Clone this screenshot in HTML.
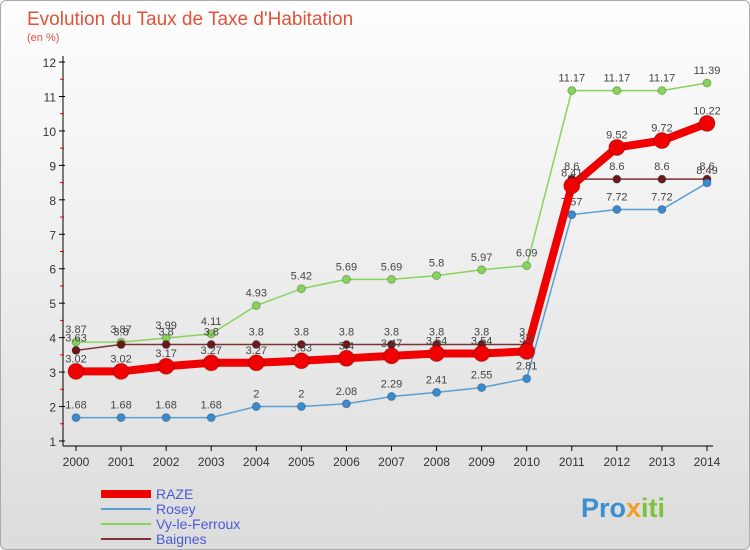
<!DOCTYPE html>
<html><head><meta charset="utf-8"><style>
body{margin:0}
#c{width:748px;height:548px;border:1px solid #aaa;border-radius:6px;background:linear-gradient(#fefefe,#dcdcdc);position:relative;overflow:hidden;font-family:"Liberation Sans",sans-serif}
svg text{font-family:"Liberation Sans",sans-serif}
</style></head><body>
<div id="c">
<svg id="s" width="750" height="550">
<text x="26" y="24" font-size="19" fill="#e0533a">Evolution du Taux de Taxe d'Habitation</text>
<text x="26" y="40" font-size="11" fill="#e0533a">(en %)</text>
<g id="ax"></g><g id="pl"></g><g id="lg"></g>
<text x="580" y="516" font-size="27" font-weight="bold" fill="#3a8fd0">Pro<tspan fill="#f0a020">x</tspan><tspan fill="#7cc23a">iti</tspan></text>
</svg></div>
<script>
const years=[2000,2001,2002,2003,2004,2005,2006,2007,2008,2009,2010,2011,2012,2013,2014];
const yTicks=[1,2,3,4,5,6,7,8,9,10,11,12];
const raze=[3.02,3.02,3.17,3.27,3.27,3.33,3.4,3.47,3.54,3.54,3.6,8.41,9.52,9.72,10.22];
const rosey=[1.68,1.68,1.68,1.68,2,2,2.08,2.29,2.41,2.55,2.81,7.57,7.72,7.72,8.49];
const vy=[3.87,3.87,3.99,4.11,4.93,5.42,5.69,5.69,5.8,5.97,6.09,11.17,11.17,11.17,11.39];
const baignes=[3.63,3.8,3.8,3.8,3.8,3.8,3.8,3.8,3.8,3.8,3.8,8.6,8.6,8.6,8.6];
const NS="http://www.w3.org/2000/svg";
const X=i=>75+i*(706-75)/(years.length-1);
const Y=v=>440-(v-1)*(440-61)/11;
function mk(p,t,a){const e=document.createElementNS(NS,t);for(const k in a)e.setAttribute(k,a[k]);p.appendChild(e);return e;}
const ax=document.getElementById('ax'),pl=document.getElementById('pl'),lg=document.getElementById('lg');
let l=mk(ax,'line',{x1:62,y1:55,x2:62,y2:445,stroke:'#000'});


l=mk(ax,'line',{x1:62,y1:445,x2:712,y2:445,stroke:'#000'});


yTicks.forEach(v=>{
 mk(ax,'line',{x1:58,x2:64,y1:Y(v),y2:Y(v),stroke:'#000'});
 if(v<12)mk(ax,'line',{x1:59,x2:63,y1:Y(v+0.5),y2:Y(v+0.5),stroke:'#e00'});
 const t=mk(ax,'text',{x:55,y:Y(v)+5,'font-size':12,'text-anchor':'end',fill:'#333'});t.textContent=v;
 
 
});
years.forEach((y,i)=>{
 mk(ax,'line',{x1:X(i),x2:X(i),y1:445,y2:450,stroke:'#000'});
 const t=mk(ax,'text',{x:X(i),y:465,'font-size':12,'text-anchor':'middle',fill:'#333'});t.textContent=y;
 
 
});
const series=[
 {n:'Vy-le-Ferroux',d:vy,c:'#86d45a',w:1.5,r:4,id:'vy'},
 {n:'Baignes',d:baignes,c:'#7a3434',w:1.5,r:4,id:'baignes',pc:'#6a1a1a'},
 {n:'Rosey',d:rosey,c:'#5a9fd4',w:1.5,r:4,id:'rosey',pc:'#3a8ad0'},
 {n:'RAZE',d:raze,c:'#f00000',w:8,r:8,id:'raze'}];
series.forEach(s=>{
 const p=mk(pl,'polyline',{points:s.d.map((v,i)=>X(i)+','+Y(v)).join(' '),fill:'none',stroke:s.c,'stroke-width':s.w});
 
 
 s.d.forEach((v,i)=>{
  const c=mk(pl,'circle',{cx:X(i),cy:Y(v),r:s.r,fill:s.pc||s.c,stroke:'rgba(0,0,0,0.25)'});
  
  
  const t=mk(pl,'text',{x:X(i),y:Y(v)-9,'font-size':11,'text-anchor':'middle',fill:'#444'});t.textContent=v;
  
  
 });
});
const leg=[series[3],series[2],series[0],series[1]];
leg.forEach((s,k)=>{
 const y=493+k*15;
 const g=mk(lg,'g',{});
 
 
 mk(g,'line',{x1:100,x2:150,y1:y,y2:y,stroke:s.c,'stroke-width':s.id==='raze'?8:2});
 const t=mk(g,'text',{x:155,y:y+5,'font-size':14,fill:'#4a5ad8'});t.textContent=s.n;
});
</script></body></html>
